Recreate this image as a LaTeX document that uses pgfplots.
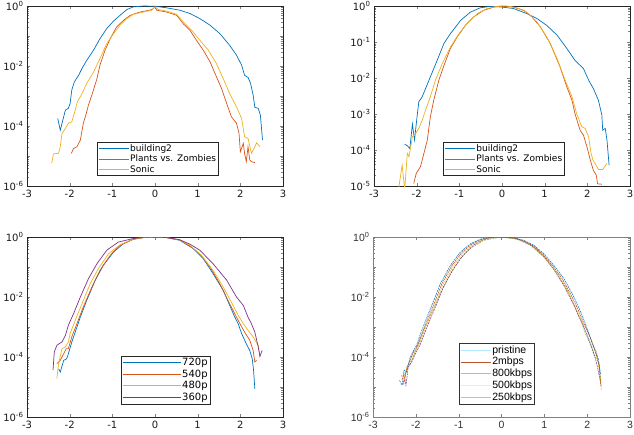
\documentclass[border=0pt]{standalone}
\usepackage{fontspec}
\setmainfont{DejaVu Sans}
\newfontfamily\brfont{Liberation Sans}
\usepackage{pgfplots}
\usepackage{pgfplotstable}
\pgfplotsset{compat=1.18}

\definecolor{mblue}{rgb}{0,0.447,0.741}
\definecolor{morange}{rgb}{0.85,0.325,0.098}
\definecolor{myellow}{rgb}{0.929,0.694,0.125}
\definecolor{mpurple}{rgb}{0.494,0.184,0.556}
\definecolor{mgreen}{rgb}{0.466,0.674,0.188}
\definecolor{mbrown}{rgb}{0.70,0.25,0.10}
\definecolor{lpristine}{rgb}{0.70,0.90,1.00}
\definecolor{l2m}{rgb}{0.72,0.33,0.18}
\definecolor{l800}{rgb}{0.88,0.70,0.42}
\definecolor{l500}{rgb}{1.00,0.86,1.00}
\definecolor{l250}{rgb}{0.68,0.84,0.48}

\pgfplotstableread{
x y
-2.28 -3.75
-2.22 -4.14
-2.14 -3.69
-2.10 -3.47
-2.03 -3.41
-1.99 -3.25
-1.95 -2.80
-1.89 -2.53
-1.79 -2.31
-1.71 -2.08
-1.60 -1.81
-1.44 -1.47
-1.29 -1.09
-1.13 -0.75
-0.97 -0.50
-0.82 -0.31
-0.66 -0.12
-0.51 -0.03
-0.27 0.00
0.00 -0.01
0.27 -0.06
0.58 -0.14
0.82 -0.25
1.05 -0.42
1.29 -0.64
1.52 -0.92
1.75 -1.31
1.91 -1.64
2.03 -1.97
2.10 -2.31
2.18 -2.38
2.24 -2.58
2.30 -2.97
2.34 -3.38
2.42 -3.41
2.47 -3.64
2.52 -4.47
}\tlA
\pgfplotstableread{
x y
-1.96 -4.91
-1.91 -4.75
-1.83 -4.69
-1.75 -4.47
-1.68 -3.91
-1.61 -3.58
-1.56 -3.30
-1.48 -2.97
-1.36 -2.42
-1.29 -1.97
-1.17 -1.47
-1.05 -1.09
-0.90 -0.70
-0.74 -0.48
-0.58 -0.31
-0.35 -0.20
-0.12 -0.14
-0.04 -0.09
0.00 -0.01
0.04 -0.14
0.27 -0.20
0.51 -0.31
0.66 -0.59
0.82 -0.81
0.97 -1.14
1.13 -1.47
1.29 -1.86
1.44 -2.36
1.56 -2.75
1.68 -3.25
1.79 -3.69
1.91 -3.91
1.97 -4.25
2.00 -4.86
2.07 -4.58
2.10 -4.91
2.14 -5.19
2.18 -4.69
2.22 -5.13
2.26 -5.19
2.34 -5.22
}\tlB
\pgfplotstableread{
x y
-2.42 -5.24
-2.38 -4.93
-2.26 -4.91
-2.22 -4.69
-2.18 -4.25
-2.10 -4.08
-2.03 -3.91
-1.95 -3.86
-1.87 -3.47
-1.82 -3.19
-1.71 -2.92
-1.60 -2.58
-1.44 -2.20
-1.29 -1.75
-1.13 -1.25
-0.97 -0.92
-0.82 -0.64
-0.66 -0.42
-0.51 -0.28
-0.27 -0.20
-0.08 -0.14
0.00 -0.03
0.08 -0.12
0.27 -0.17
0.51 -0.28
0.66 -0.53
0.86 -0.81
1.05 -1.14
1.25 -1.47
1.44 -1.92
1.60 -2.42
1.75 -2.92
1.91 -3.36
2.03 -3.75
2.10 -4.36
2.18 -4.41
2.26 -4.91
2.34 -4.69
2.38 -4.56
2.46 -4.69
}\tlC
\pgfplotstableread{
x y
-2.28 -3.84
-2.22 -3.88
-2.16 -3.96
-2.10 -3.28
-2.05 -3.72
-2.00 -3.17
-1.95 -2.66
-1.87 -2.52
-1.79 -2.29
-1.68 -1.97
-1.52 -1.51
-1.36 -1.04
-1.21 -0.77
-0.97 -0.40
-0.74 -0.17
-0.51 -0.05
-0.27 -0.01
0.00 -0.03
0.27 -0.07
0.58 -0.21
0.82 -0.35
1.05 -0.54
1.29 -0.81
1.52 -1.18
1.71 -1.51
1.91 -1.74
2.03 -2.06
2.14 -2.29
2.26 -2.62
2.34 -3.03
2.36 -3.45
2.42 -3.40
2.46 -3.72
2.51 -4.42
}\trA
\pgfplotstableread{
x y
-2.07 -4.93
-2.01 -4.65
-1.91 -4.46
-1.83 -4.09
-1.75 -3.72
-1.68 -3.08
-1.60 -2.62
-1.48 -2.06
-1.36 -1.65
-1.21 -1.18
-1.05 -0.86
-0.86 -0.54
-0.66 -0.30
-0.43 -0.12
-0.19 -0.03
0.00 0.00
0.27 -0.03
0.51 -0.12
0.70 -0.30
0.90 -0.58
1.13 -1.04
1.36 -1.69
1.52 -2.25
1.64 -2.62
1.71 -2.99
1.83 -3.45
1.91 -3.59
1.99 -3.91
2.07 -4.28
2.14 -4.56
2.21 -4.70
2.24 -4.94
2.34 -4.95
}\trB
\pgfplotstableread{
x y
-2.42 -5.05
-2.34 -4.42
-2.28 -5.10
-2.22 -4.09
-2.18 -4.19
-2.10 -3.63
-2.04 -3.59
-2.00 -3.49
-1.95 -3.40
-1.87 -3.17
-1.79 -2.89
-1.68 -2.52
-1.56 -2.06
-1.40 -1.60
-1.21 -1.14
-1.01 -0.77
-0.82 -0.49
-0.58 -0.21
-0.35 -0.07
-0.12 -0.01
0.12 0.00
0.35 -0.05
0.58 -0.17
0.82 -0.44
1.05 -0.86
1.29 -1.46
1.48 -2.06
1.64 -2.52
1.75 -2.99
1.87 -3.35
1.95 -3.40
2.03 -3.63
2.08 -4.05
2.13 -4.28
2.18 -4.37
2.26 -4.54
2.36 -4.54
2.46 -4.37
}\trC
\pgfplotstableread{
x y
-2.26 -4.39
-2.22 -4.50
-2.14 -4.11
-2.07 -4.06
-2.03 -3.89
-1.95 -3.50
-1.87 -3.17
-1.75 -2.67
-1.60 -2.11
-1.40 -1.44
-1.21 -0.94
-0.97 -0.50
-0.74 -0.22
-0.51 -0.08
-0.27 -0.02
0.00 0.00
0.27 -0.02
0.58 -0.11
0.90 -0.39
1.13 -0.72
1.36 -1.22
1.60 -1.78
1.75 -2.28
1.87 -2.67
1.95 -2.89
2.03 -3.22
2.14 -3.56
2.22 -3.78
2.28 -4.06
2.31 -4.44
2.34 -5.06
}\blA
\pgfplotstableread{
x y
-2.30 -4.22
-2.22 -4.11
-2.14 -3.89
-2.08 -3.72
-2.03 -3.72
-1.95 -3.33
-1.83 -2.89
-1.68 -2.33
-1.48 -1.67
-1.29 -1.11
-1.05 -0.61
-0.82 -0.28
-0.51 -0.07
-0.27 -0.02
0.00 0.00
0.27 -0.02
0.58 -0.10
0.82 -0.30
1.05 -0.56
1.29 -1.00
1.52 -1.56
1.71 -2.11
1.87 -2.56
1.99 -2.89
2.10 -3.17
2.22 -3.44
2.30 -3.78
2.34 -4.17
2.38 -4.11
}\blB
\pgfplotstableread{
x y
-2.30 -4.72
-2.26 -4.22
-2.18 -3.72
-2.10 -3.67
-2.03 -3.50
-1.99 -3.22
-1.87 -2.78
-1.71 -2.22
-1.52 -1.56
-1.33 -1.06
-1.09 -0.56
-0.82 -0.26
-0.51 -0.07
-0.27 -0.02
0.00 0.00
0.27 -0.02
0.58 -0.10
0.82 -0.28
1.09 -0.61
1.36 -1.11
1.60 -1.67
1.79 -2.17
1.95 -2.61
2.07 -2.89
2.18 -3.11
2.30 -3.33
2.42 -3.61
2.46 -4.00
}\blC
\pgfplotstableread{
x y
-2.39 -4.44
-2.36 -3.83
-2.30 -3.61
-2.24 -3.55
-2.18 -3.50
-2.10 -3.28
-2.03 -2.94
-1.91 -2.56
-1.75 -2.00
-1.56 -1.39
-1.36 -0.89
-1.13 -0.44
-0.86 -0.17
-0.51 -0.05
-0.27 -0.01
0.00 0.00
0.27 -0.02
0.58 -0.09
0.82 -0.24
1.05 -0.44
1.36 -0.89
1.68 -1.44
1.91 -2.00
2.07 -2.28
2.18 -2.67
2.26 -2.89
2.34 -3.17
2.42 -3.67
2.46 -3.98
2.51 -3.78
}\blD
\pgfplotstableread{
x y
-2.38 -4.78
-2.32 -4.94
-2.27 -4.44
-2.22 -4.50
-2.13 -4.00
-2.05 -3.78
-1.97 -3.56
-1.89 -3.22
-1.74 -2.67
-1.58 -2.11
-1.43 -1.56
-1.19 -0.94
-0.96 -0.50
-0.72 -0.22
-0.49 -0.07
-0.26 -0.01
0.00 0.00
0.29 -0.02
0.52 -0.11
0.76 -0.28
0.99 -0.56
1.22 -0.94
1.46 -1.39
1.69 -2.00
1.85 -2.50
1.96 -2.89
2.04 -3.22
2.12 -3.56
2.20 -3.78
2.26 -4.06
2.31 -4.56
}\brA
\pgfplotstableread{
x y
-2.33 -4.60
-2.28 -4.90
-2.22 -4.40
-2.12 -4.05
-2.04 -3.80
-1.95 -3.58
-1.86 -3.24
-1.71 -2.69
-1.55 -2.13
-1.40 -1.58
-1.16 -0.96
-0.93 -0.52
-0.70 -0.24
-0.47 -0.08
-0.25 -0.01
0.00 0.00
0.28 -0.03
0.50 -0.12
0.74 -0.30
0.97 -0.58
1.20 -0.97
1.43 -1.42
1.66 -2.03
1.82 -2.52
1.93 -2.90
2.02 -3.18
2.10 -3.45
2.16 -3.70
2.22 -3.95
2.28 -4.30
2.32 -4.95
}\brB
\pgfplotstableread{
x y
-2.30 -4.45
-2.26 -4.70
-2.20 -4.30
-2.10 -4.10
-2.02 -3.82
-1.93 -3.60
-1.84 -3.28
-1.69 -2.72
-1.53 -2.17
-1.38 -1.63
-1.14 -1.00
-0.91 -0.56
-0.68 -0.26
-0.45 -0.09
-0.23 -0.02
0.00 0.00
0.30 -0.04
0.53 -0.14
0.76 -0.33
0.98 -0.62
1.20 -1.03
1.42 -1.50
1.64 -2.08
1.80 -2.57
1.92 -2.93
2.00 -3.10
2.06 -3.30
2.14 -3.60
2.20 -3.90
2.26 -4.20
2.33 -5.10
}\brC
\pgfplotstableread{
x y
-2.28 -4.55
-2.23 -4.95
-2.18 -4.35
-2.09 -4.15
-2.00 -3.85
-1.91 -3.62
-1.82 -3.30
-1.67 -2.76
-1.51 -2.22
-1.36 -1.68
-1.12 -1.05
-0.89 -0.60
-0.66 -0.28
-0.44 -0.10
-0.22 -0.02
0.00 0.00
0.32 -0.05
0.55 -0.16
0.78 -0.36
1.00 -0.66
1.22 -1.08
1.44 -1.58
1.66 -2.18
1.81 -2.66
1.93 -3.02
2.01 -3.30
2.08 -3.55
2.14 -3.80
2.20 -4.10
2.25 -4.40
2.31 -4.85
}\brD
\pgfplotstableread{
x y
-2.26 -4.70
-2.20 -4.40
-2.13 -4.22
-2.05 -3.95
-1.97 -3.67
-1.82 -3.11
-1.62 -2.50
-1.43 -1.89
-1.19 -1.22
-0.96 -0.72
-0.72 -0.37
-0.41 -0.11
0.00 0.00
0.37 -0.08
0.68 -0.28
0.99 -0.67
1.30 -1.22
1.54 -1.78
1.73 -2.39
1.85 -2.78
1.96 -3.22
2.08 -3.61
2.16 -3.94
2.22 -4.05
2.28 -4.22
2.33 -5.00
}\brE

\pgfplotsset{
  every axis/.append style={
    scale only axis, height=180pt,
    xmin=-3, xmax=3,
    xtick={-3,-2,-1,0,1,2,3},
    xticklabels={-3,-2,-1,0,1,2,3},
    tick align=inside,
    major tick length=3pt, minor tick length=1.6pt,
    tick label style={font=\fontsize{10}{12}\selectfont, text=black!90},
    xticklabel style={yshift=-0.5pt},
    legend cell align=left,
    legend style={font=\fontsize{9}{11}\selectfont, fill=white,
      anchor=north west, inner sep=1.2pt, row sep=0pt, line width=0.5pt,
      nodes={inner sep=1pt}},
    legend image post style={xscale=1.76, line width=0.8pt},
  },
}

\begin{document}
\begin{tikzpicture}
\path[use as bounding box] (0,0) rectangle (634pt,434pt);

% top left
\begin{axis}[width=256pt, at={(27pt,248pt)}, anchor=south west,
  ymode=log, ymin=1e-6, ymax=1,
  ytick={1e-6,1e-5,1e-4,1e-3,1e-2,1e-1,1},
  yticklabels={10\textsuperscript{-6},{},10\textsuperscript{-4},{},10\textsuperscript{-2},{},10\textsuperscript{0}},
  axis line style={black!85},
  legend style={at={(0.273,0.244)}, draw=black!85}]
\addlegendimage{color=mblue, draw=mblue, solid, mark=none}
\addlegendentry{building2}
\addlegendimage{color=morange, draw=morange, solid, mark=none}
\addlegendentry{Plants vs. Zombies}
\addlegendimage{color=myellow, draw=myellow, solid, mark=none}
\addlegendentry{Sonic}
\addplot[color=mblue, draw=mblue, no marks, line width=0.7pt, forget plot] table[x=x, y expr=10^(\thisrow{y})] {\tlA};
\addplot[color=morange, draw=morange, no marks, line width=0.7pt, forget plot] table[x=x, y expr=10^(\thisrow{y})] {\tlB};
\addplot[color=myellow, draw=myellow, no marks, line width=0.7pt, forget plot] table[x=x, y expr=10^(\thisrow{y})] {\tlC};
\end{axis}

% top right
\begin{axis}[width=256pt, at={(374pt,248pt)}, anchor=south west,
  ymode=log, ymin=1e-5, ymax=1,
  ytick={1e-5,1e-4,1e-3,1e-2,1e-1,1},
  yticklabels={10\textsuperscript{-5},10\textsuperscript{-4},10\textsuperscript{-3},10\textsuperscript{-2},10\textsuperscript{-1},10\textsuperscript{0}},
  axis line style={black!85},
  legend style={at={(0.27,0.244)}, draw=black!85}]
\addlegendimage{color=mblue, draw=mblue, solid, mark=none}
\addlegendentry{building2}
\addlegendimage{color=morange, draw=morange, solid, mark=none}
\addlegendentry{Plants vs. Zombies}
\addlegendimage{color=myellow, draw=myellow, solid, mark=none}
\addlegendentry{Sonic}
\addplot[color=mblue, draw=mblue, no marks, line width=0.7pt, forget plot] table[x=x, y expr=10^(\thisrow{y})] {\trA};
\addplot[color=morange, draw=morange, no marks, line width=0.7pt, forget plot] table[x=x, y expr=10^(\thisrow{y})] {\trB};
\addplot[color=myellow, draw=myellow, no marks, line width=0.7pt, forget plot] table[x=x, y expr=10^(\thisrow{y})] {\trC};
\end{axis}

% bottom left
\begin{axis}[width=256pt, at={(27pt,17pt)}, anchor=south west,
  ymode=log, ymin=1e-6, ymax=1,
  ytick={1e-6,1e-5,1e-4,1e-3,1e-2,1e-1,1},
  yticklabels={10\textsuperscript{-6},{},10\textsuperscript{-4},{},10\textsuperscript{-2},{},10\textsuperscript{0}},
  axis line style={black!85},
  legend style={at={(0.367,0.339)}, draw=black!85, font=\fontsize{10}{12}\selectfont, row sep=0.5pt},
  legend image post style={xscale=1.93}]
\addlegendimage{color=mblue, draw=mblue, solid, mark=none}
\addlegendentry{720p}
\addlegendimage{color=morange, draw=morange, solid, mark=none}
\addlegendentry{540p}
\addlegendimage{color=myellow, draw=myellow, solid, mark=none}
\addlegendentry{480p}
\addlegendimage{color=mpurple, draw=mpurple, solid, mark=none}
\addlegendentry{360p}
\addplot[color=mblue, draw=mblue, no marks, line width=0.7pt, forget plot] table[x=x, y expr=10^(\thisrow{y})] {\blA};
\addplot[color=morange, draw=morange, no marks, line width=0.7pt, forget plot] table[x=x, y expr=10^(\thisrow{y})] {\blB};
\addplot[color=myellow, draw=myellow, no marks, line width=0.7pt, forget plot] table[x=x, y expr=10^(\thisrow{y})] {\blC};
\addplot[color=mpurple, draw=mpurple, no marks, line width=0.7pt, forget plot] table[x=x, y expr=10^(\thisrow{y})] {\blD};
\end{axis}

% bottom right
\begin{axis}[width=257pt, at={(373pt,17pt)}, anchor=south west,
  ymode=log, ymin=1e-6, ymax=1,
  ytick={1e-6,1e-5,1e-4,1e-3,1e-2,1e-1,1},
  yticklabels={10\textsuperscript{-6},{},10\textsuperscript{-4},{},10\textsuperscript{-2},{},10\textsuperscript{0}},
  axis line style={black!50},
  tick label style={font=\brfont\fontsize{10.5}{12}\selectfont, text=black!80},
  legend style={at={(0.335,0.411)}, draw=black!80, font=\brfont\fontsize{10.5}{12}\selectfont, row sep=0.8pt}]
\addlegendimage{color=lpristine, draw=lpristine, solid, mark=none}
\addlegendentry{pristine}
\addlegendimage{color=l2m, draw=l2m, solid, mark=none}
\addlegendentry{2mbps}
\addlegendimage{color=l800, draw=l800, solid, mark=none}
\addlegendentry{800kbps}
\addlegendimage{color=l500, draw=l500, solid, mark=none}
\addlegendentry{500kbps}
\addlegendimage{color=l250, draw=l250, solid, mark=none}
\addlegendentry{250kbps}
\addplot[color=mgreen, draw=mgreen, no marks, line width=0.5pt, dash pattern=on 2pt off 0.8pt, forget plot] table[x=x, y expr=10^(\thisrow{y})] {\brE};
\addplot[color=mpurple, draw=mpurple, no marks, line width=0.5pt, dash pattern=on 2pt off 0.8pt, forget plot] table[x=x, y expr=10^(\thisrow{y})] {\brD};
\addplot[color=myellow, draw=myellow, no marks, line width=0.5pt, dash pattern=on 2pt off 0.8pt, forget plot] table[x=x, y expr=10^(\thisrow{y})] {\brC};
\addplot[color=mbrown, draw=mbrown, no marks, line width=0.5pt, dash pattern=on 2pt off 0.8pt, forget plot] table[x=x, y expr=10^(\thisrow{y})] {\brB};
\addplot[color=mblue, draw=mblue, no marks, line width=0.5pt, dash pattern=on 2pt off 0.8pt, forget plot] table[x=x, y expr=10^(\thisrow{y})] {\brA};
\end{axis}
\end{tikzpicture}
\end{document}
